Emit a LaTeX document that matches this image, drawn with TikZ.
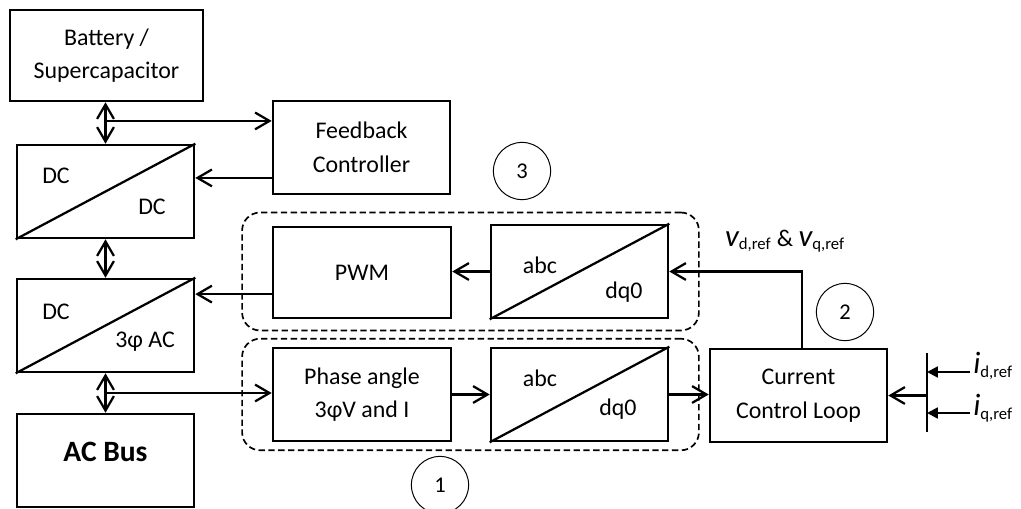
\documentclass[tikz,border=0pt]{standalone}
\usepackage{fontspec}
\setmainfont{Carlito}
\usetikzlibrary{arrows.meta,fit,calc}

\tikzset{
  block/.style={draw,line width=1.8pt,minimum width=4.425cm,minimum height=2.325cm,
    inner sep=0pt,align=center,font=\fontsize{17}{24}\selectfont},
  group/.style={draw,line width=1.2pt,dash pattern=on 4.5pt off 2.5pt,rounded corners=0.45cm},
  lbl/.style={inner sep=0pt,font=\fontsize{17}{24}\selectfont},
  num/.style={draw,circle,line width=0.7pt,minimum size=1.43cm,inner sep=0pt,
    font=\fontsize{16}{18}\selectfont},
  barb/.tip={Straight Barb[length=0.36cm,width=0.42cm]},
  conn/.style={line width=1.6pt,-barb},
  biconn/.style={line width=1.6pt,barb-barb},
  refin/.style={line width=1.6pt,-{Triangle[length=0.27cm,width=0.27cm]}}
}
\newcommand{\vsym}{{\fontsize{22}{24}\selectfont\itshape v}}
\newcommand{\isym}{{\fontsize{22}{24}\selectfont\itshape i}}

\begin{document}
\begin{tikzpicture}[x=0.025cm,y=-0.025cm]
  \useasboundingbox (0,0) rectangle (1021,508);

  % storage side
  \node[block,minimum width=4.825cm,minimum height=2.275cm] (bat) at (106.5,55.5) {Battery /\\Supercapacitor};
  \node[block] (dcdc) at (105.5,191.5) {};
  \node[block] (dcac) at (105.5,325.5) {};
  \node[block] (bus) at (105.5,460.5) {};
  \node[inner sep=0pt,font=\fontsize{21}{24}\bfseries] (bustxt) at (105.5,452) {AC Bus};
  \draw[line width=1.6pt] (dcdc.south west) -- (dcdc.north east);
  \draw[line width=1.6pt] (dcac.south west) -- (dcac.north east);
  \node[lbl] (dcin) at (56,176) {DC};
  \node[lbl] (dcout) at (152,207) {DC};
  \node[lbl] (dcin2) at (56,312) {DC};
  \node[lbl] (acout) at (145,342) {3φ AC};

  % control blocks
  \node[block] (fb) at (361.5,147.5) {Feedback\\Controller};
  \node[block,minimum width=4.45cm,minimum height=2.275cm] (pwm) at (362,272.5) {PWM};
  \node[block] (abcu) at (579.5,271.5) {};
  \node[block,minimum width=4.45cm] (ph) at (362,394.5) {Phase angle\\3φV and I};
  \node[block] (abcl) at (579.5,394.5) {};
  \node[block] (ccl) at (798.5,395.5) {Current\\Control Loop};
  \draw[line width=1.6pt] (abcu.south west) -- (abcu.north east);
  \draw[line width=1.6pt] (abcl.south west) -- (abcl.north east);
  \node[lbl] (abc1) at (540,265) {abc};
  \node[lbl] (dq1) at (624,292) {dq0};
  \node[lbl] (abc2) at (540,378) {abc};
  \node[lbl] (dq2) at (618,409) {dq0};

  \node[group,fit=(pwm)(abcu),inner xsep=0.74cm,inner ysep=0.28cm] (g3) {};
  \node[group,fit=(ph)(abcl),inner xsep=0.74cm,inner ysep=0.2cm] (g1) {};

  \node[num] (n3) at (522,171) {3};
  \node[num] (n2) at (845,312) {2};
  \node[num] (n1) at (440,485) {1};

  % connections
  \draw[biconn] (dcdc.north) -- (dcdc.north |- bat.south);
  \draw[biconn] (dcdc.south) -- (dcac.north);
  \draw[biconn] (dcac.south) -- (bus.north);
  \coordinate (j1) at ($(dcdc.north)!0.55!(dcdc.north |- bat.south)$);
  \coordinate (j2) at ($(dcac.south)!0.5!(bus.north)$);
  \draw[conn] (j1) -- (j1 -| fb.west);
  \draw[conn] (j2) -- (j2 -| ph.west);
  \draw[conn] ([yshift=-0.76cm]fb.west) coordinate (t1) -- (t1 -| dcdc.east);
  \draw[conn] ([yshift=-0.54cm]pwm.west) coordinate (t2) -- (t2 -| dcac.east);
  \draw[conn] (abcu.west) -- (abcu.west -| pwm.east);
  \draw[conn] (ph.east) -- (ph.east -| abcl.west);
  \draw[conn] (abcl.east) -- (abcl.east -| ccl.west);
  \draw[conn] ([xshift=0.09cm]ccl.north) |- (abcu.east);
  \node[inner sep=0pt,font=\fontsize{17}{24}\selectfont] (vref) at (785,241)
    {\vsym\textsubscript{d,ref} \& \vsym\textsubscript{q,ref}};

  % reference inputs
  \coordinate (bt) at (927,353);
  \coordinate (bb) at (927,432);
  \draw[line width=1.8pt] (bt) -- (bb);
  \coordinate (bm) at (927,395.5);
  \draw[conn] (bm) -- (ccl.east);
  \coordinate (idin) at (970,372);
  \coordinate (iqin) at (970,413);
  \draw[refin] (idin) -- (idin -| bt);
  \draw[refin] (iqin) -- (iqin -| bt);
  \node[anchor=west,inner sep=0pt,font=\fontsize{17}{24}\selectfont] (idref) at (973,366) {\isym\textsubscript{d,ref}};
  \node[anchor=west,inner sep=0pt,font=\fontsize{17}{24}\selectfont] (iqref) at (973,408) {\isym\textsubscript{q,ref}};
\end{tikzpicture}
\end{document}
